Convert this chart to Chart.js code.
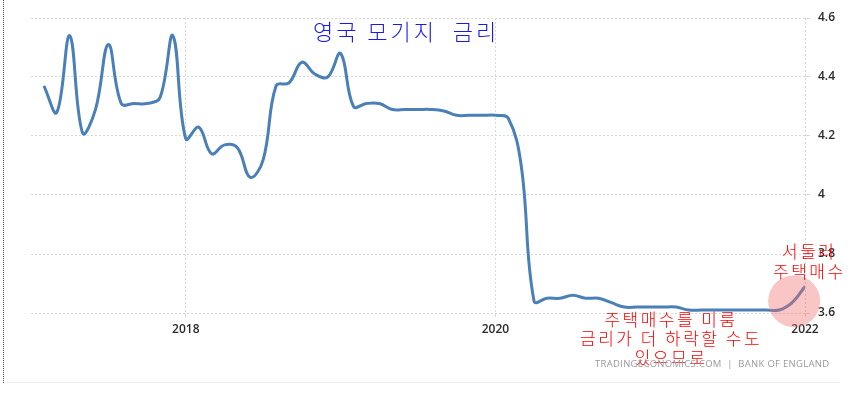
<!DOCTYPE html>
<html>
<head>
<meta charset="utf-8">
<script src="https://cdn.jsdelivr.net/npm/chart.js@4/dist/chart.umd.min.js"></script>
<style>
  html, body { margin: 0; padding: 0; background: #fff; }
  #wrap { position: relative; width: 855px; height: 399px; overflow: hidden; }
  #edge { position: absolute; left: 3px; top: 0; height: 383px; border-left: 1px dotted #444; }
  #baseline { position: absolute; left: 5px; top: 382px; width: 835px; border-top: 1px solid #eee; }
  .note { position: absolute; font-family: "Noto Sans CJK KR", sans-serif; white-space: pre; }
  #title { left: 313px; top: 14px; font-size: 22px; font-weight: 300; letter-spacing: 3px; color: #1a1ae8; }
  .red { color: #f00; font-size: 17px; font-weight: 300; letter-spacing: 2.5px; line-height: 19px; }
  #noteTop { left: 773px; top: 241px; text-align: center; line-height: 20px; }
  #noteBottom { left: 580px; top: 309px; text-align: center; }
  #source { position: absolute; left: 595px; top: 357px; font: 9.5px "Open Sans", sans-serif;
            letter-spacing: 0.3px; color: #9a9a9a; white-space: pre; }
</style>
</head>
<body>
<div id="wrap">
  <canvas id="mortgageChart" width="855" height="399"></canvas>
  <div id="edge"></div>
  <div id="baseline"></div>
  <div id="title" class="note">영국 모기지  금리</div>
  <div id="noteTop" class="note red">서둘러
주택매수</div>
  <div id="noteBottom" class="note red">주택매수를 미룸
금리가 더 하락할 수도
있으므로</div>
  <div id="source">TRADINGECONOMICS.COM  |  BANK OF ENGLAND</div>
</div>
<script>
// monthly observations, Jan 2017 .. Dec 2021
const years = [2017, 2018, 2019, 2020, 2021];
const rates = [
  4.37, 4.28, 4.54, 4.21, 4.29, 4.51, 4.31, 4.31, 4.31, 4.33, 4.54, 4.19, // 2017
  4.23, 4.14, 4.17, 4.16, 4.06, 4.12, 4.37, 4.38, 4.45, 4.41, 4.40, 4.48, // 2018
  4.30, 4.31, 4.31, 4.29, 4.29, 4.29, 4.29, 4.285, 4.27, 4.27, 4.27, 4.27, // 2019
  4.26, 4.10, 3.64, 3.65, 3.65, 3.66, 3.65, 3.65, 3.635, 3.62, 3.62, 3.62, // 2020
  3.62, 3.62, 3.61, 3.61, 3.61, 3.61, 3.61, 3.61, 3.61, 3.61, 3.635, 3.69  // 2021
];
const xTicks = [2018, 2020, 2022];
const yTicks = [3.6, 3.8, 4, 4.2, 4.4, 4.6];

// highlight circle near the latest reading
const highlight = { x: 2021.93, y: 3.64 };

const points = [];
years.forEach((yr, i) => {
  for (let m = 1; m <= 12; m++) {
    points.push({ x: yr + m / 12, y: rates[i * 12 + m - 1] });
  }
});

const circlePlugin = {
  id: 'circle',
  afterDatasetsDraw(chart) {
    const { ctx, scales } = chart;
    const cx = scales.x.getPixelForValue(highlight.x);
    const cy = scales.y.getPixelForValue(highlight.y);
    ctx.save();
    ctx.beginPath();
    ctx.arc(cx, cy, 26, 0, Math.PI * 2);
    ctx.fillStyle = 'rgba(240, 110, 110, 0.4)';
    ctx.fill();
    ctx.restore();
  }
};

const gridColor = '#d8d8d8';
const tickFont = { family: 'Open Sans', size: 12, weight: '600' };

new Chart(document.getElementById('mortgageChart'), {
  type: 'line',
  data: {
    datasets: [{
      data: points,
      borderColor: '#4a80b7',
      borderWidth: 3,
      pointRadius: 0,
      tension: 0.4,
      fill: false
    }]
  },
  options: {
    responsive: false,
    animation: false,
    layout: { padding: { left: 31, top: 18, right: 0, bottom: 0 } },
    plugins: { legend: { display: false }, tooltip: { enabled: false } },
    scales: {
      x: {
        type: 'linear',
        min: 2017,
        max: 2022,
        afterBuildTicks: s => { s.ticks = xTicks.map(v => ({ value: v })); },
        afterFit: s => { s.height = 86; },
        grid: { color: gridColor, tickLength: 4 },
        border: { display: false, dash: [2, 2] },
        ticks: { color: '#2b2b2b', font: tickFont, padding: 5, maxRotation: 0, callback: v => String(v) }
      },
      y: {
        position: 'right',
        min: 3.6,
        max: 4.6,
        afterBuildTicks: s => { s.ticks = yTicks.map(v => ({ value: v })); },
        afterFit: s => { s.width = 50; },
        grid: { color: gridColor, tickLength: 5 },
        border: { display: false, dash: [2, 2] },
        ticks: { color: '#2b2b2b', font: tickFont, padding: 8, callback: v => String(v) }
      }
    }
  },
  plugins: [circlePlugin]
});
</script>
</body>
</html>
